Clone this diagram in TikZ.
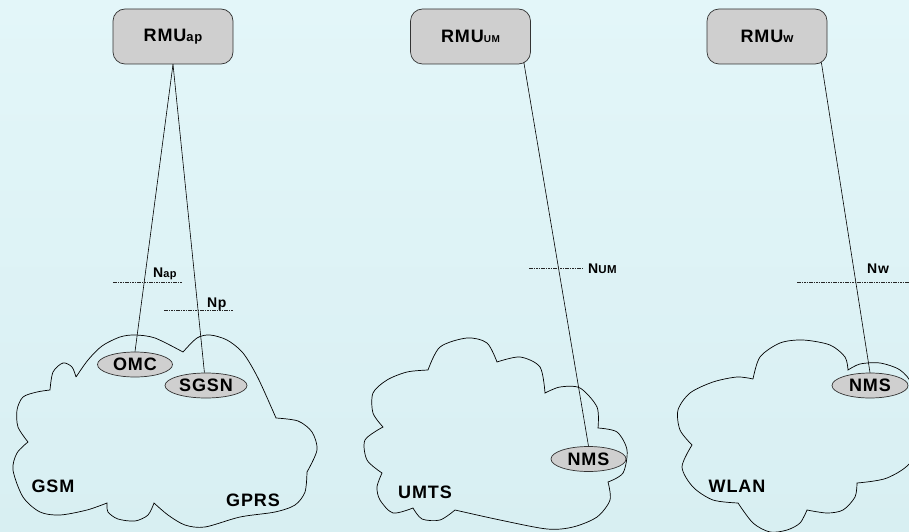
\documentclass[tikz,border=0pt]{standalone}
\usepackage{fontspec}
\setmainfont{Liberation Sans}
\newfontfamily\labelfont[LetterSpace=5]{Liberation Sans Bold}
\usetikzlibrary{shapes.geometric,calc}

% smaller text for indices such as "ap", "UM", "w"
\newcommand\tagsize[2]{{\fontsize{#1}{#1}\selectfont #2}}

\definecolor{boxgray}{RGB}{207,207,207}
\definecolor{bgtop}{RGB}{227,246,249}
\definecolor{bgbottom}{RGB}{216,239,242}

\tikzset{
  rmu/.style={draw=black!80, fill=boxgray, rounded corners=12pt,
    minimum width=120pt, minimum height=55pt, inner sep=0pt,
    line width=0.7pt, font={\labelfont\fontsize{18}{20}\selectfont}},
  unit/.style={ellipse, draw=black!80, fill=boxgray, inner sep=0pt,
    minimum height=25pt, line width=0.7pt,
    font={\labelfont\fontsize{18}{20}\selectfont}},
  netname/.style={font={\labelfont\fontsize{18}{20}\selectfont}},
  refname/.style={anchor=base west, inner sep=0pt,
    font={\labelfont\fontsize{14}{16}\selectfont}},
  link/.style={black, line width=0.6pt},
  refline/.style={black!85, line width=0.7pt, dash pattern=on 1.5pt off 0.9pt},
  cloudline/.style={black, line width=0.7pt},
}

\begin{document}
\begin{tikzpicture}[x=1pt,y=-1pt]
  % canvas
  \shade[top color=bgtop, bottom color=bgbottom] (0,0) rectangle (909,532);
  \path[use as bounding box] (0,0) rectangle (909,532);

  % ---- GSM / GPRS cloud ----
  \draw[cloudline]
    plot[smooth] coordinates {(76,377) (88,360) (102,346) (120,337) (135,335) (155,338) (183,352)}
    -- plot[smooth] coordinates {(183,352) (197,338) (210,335) (227,340) (243,353) (258,378) (276,418)}
    -- plot[smooth] coordinates {(276,418) (298,421) (312,432) (317,450) (307,472)}
    -- plot[smooth] coordinates {(307,472) (305,492) (295,505) (275,512) (240,517) (205,527) (185,525) (168,515) (154,503)}
    -- plot[smooth] coordinates {(154,503) (148,515) (135,521) (118,519) (108,512) (107,503)}
    -- plot[smooth] coordinates {(107,503) (87,510) (60,515) (40,512) (23,497) (13,470) (17,453) (28,442)}
    -- plot[smooth] coordinates {(28,442) (18,427) (17,410) (23,397) (37,392) (50,390)}
    -- plot[smooth] coordinates {(50,390) (53,372) (63,363) (72,367) (76,377)};

  % ---- UMTS cloud ----
  \draw[cloudline]
    plot[smooth] coordinates {(428,370) (440,347) (467,338) (487,343) (497,362)}
    -- plot[smooth] coordinates {(497,362) (520,357) (540,367) (545,393)}
    -- plot[smooth] coordinates {(545,393) (560,387) (580,388) (597,407) (598,428)}
    -- plot[smooth] coordinates {(598,428) (617,432) (627,450) (623,473) (608,482)}
    -- plot[smooth] coordinates {(608,482) (610,500) (597,517) (573,527) (547,529) (500,520) (455,510)}
    -- plot[smooth] coordinates {(455,510) (440,520) (422,519) (413,508)}
    -- plot[smooth] coordinates {(413,508) (393,513) (380,500) (377,487) (382,473)}
    -- plot[smooth] coordinates {(382,473) (367,460) (365,440) (383,427)}
    -- plot[smooth] coordinates {(383,427) (373,413) (373,393) (387,380) (407,372) (428,370)};

  % ---- WLAN cloud ----
  \draw[cloudline]
    plot[smooth] coordinates {(753,379) (760,357) (780,343) (803,340) (830,345) (845,357) (848,370)}
    -- plot[smooth] coordinates {(848,370) (860,364) (880,363) (900,370) (912,385) (918,420) (912,460) (887,478) (857,483)}
    -- plot[smooth] coordinates {(857,483) (855,497) (843,510) (827,513) (807,510)}
    -- plot[smooth] coordinates {(807,510) (800,523) (787,530) (770,532) (753,523) (738,503)}
    -- plot[smooth] coordinates {(738,503) (713,500) (693,487) (682,467) (692,445)}
    -- plot[smooth] coordinates {(692,445) (680,430) (678,410) (690,393) (713,382) (737,377) (753,379)};

  % network names
  \node[netname] (gsm)  at (53,486)  {GSM};
  \node[netname] (gprs) at (253,500) {GPRS};
  \node[netname] (umts) at (425,492) {UMTS};
  \node[netname] (wlan) at (737,486) {WLAN};

  % management units on top
  \node[rmu] (rmuap) at (173,36.5) {RMU\tagsize{13}{ap}};
  \node[rmu] (rmuum) at (470.5,36.5) {RMU\tagsize{10}{UM}};
  \node[rmu] (rmuw)  at (767,36.5) {RMU\tagsize{13}{w}};

  % network elements
  \node[unit, minimum width=75pt] (omc)  at (135,364.5) {OMC};
  \node[unit, minimum width=82pt] (sgsn) at (206,385.5) {SGSN};
  \node[unit, minimum width=75pt] (nmsu) at (588.5,459) {NMS};
  \node[unit, minimum width=76pt] (nmsw) at (870,385.5) {NMS};

  % attachment points on the lower edge of the right-hand boxes
  \coordinate (rmuum-out) at ($(rmuum.south east)+(-7,-2)$);
  \coordinate (rmuw-out)  at ($(rmuw.south east)+(-6,-2)$);

  % management links
  \draw[link] (rmuap.south) -- (omc.north);
  \draw[link] (rmuap.south) -- (sgsn.97);
  \draw[link] (rmuum-out) -- (nmsu.north);
  \draw[link] (rmuw-out) -- (nmsw.north);

  % reference points
  \coordinate (nap-a) at (113,282); \coordinate (nap-b) at (182,282);
  \coordinate (np-a)  at (164,310); \coordinate (np-b)  at (233,310);
  \coordinate (num-a) at (529,268); \coordinate (num-b) at (582,268);
  \coordinate (nw-a)  at (797,282); \coordinate (nw-b)  at (909,282);
  \draw[refline] (nap-a) -- (nap-b);
  \draw[refline] (np-a) -- (np-b);
  \draw[refline] (num-a) -- (num-b);
  \draw[refline] (nw-a) -- (nw-b);

  \node[refname] (nap) at (153,277) {N\tagsize{11}{ap}};
  \node[refname] (np)  at (207,307) {Np};
  \node[refname] (num) at (588,273) {N\tagsize{11.5}{UM}};
  \node[refname] (nw)  at (867,273) {Nw};
\end{tikzpicture}
\end{document}
